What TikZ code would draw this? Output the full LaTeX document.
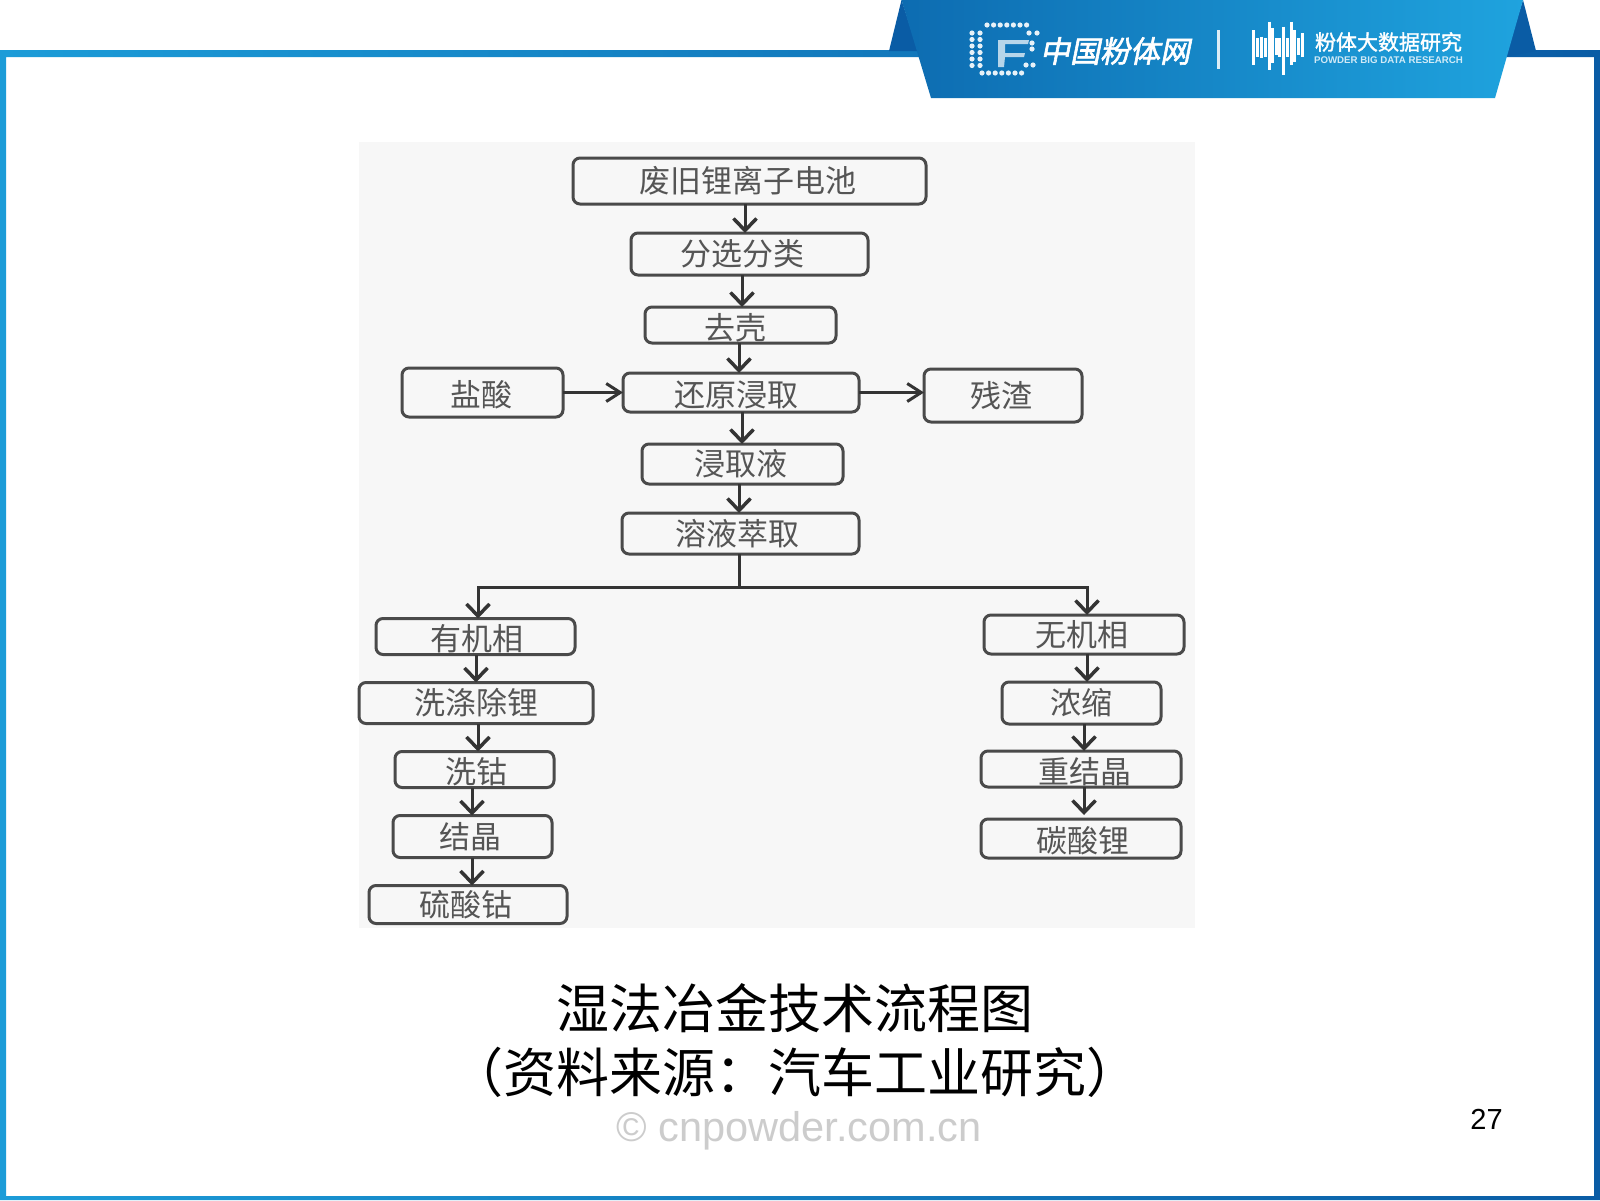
\documentclass[tikz,border=0pt]{standalone}
\usepackage{fontspec}
\setmainfont{Noto Sans CJK SC}
\newfontfamily\latinfont{Liberation Sans}
\newfontfamily\logofont[FakeSlant=.2,FakeBold=2]{Noto Sans CJK SC}
\newfontfamily\brandfont[FakeBold=1.5]{Noto Sans CJK SC}
\usetikzlibrary{positioning,arrows.meta}
\definecolor{framelight}{HTML}{1C9CD8}
\definecolor{framedark}{HTML}{0A5CA5}
\definecolor{bandleft}{HTML}{0D6CB1}
\definecolor{bandright}{HTML}{1FA3DE}
\definecolor{boxline}{HTML}{4A4A4A}
\definecolor{boxtext}{HTML}{555555}
\definecolor{scanbg}{HTML}{F7F7F7}
\tikzset{%
  proc/.style={draw=boxline,line width=3pt,rounded corners=7pt,inner sep=0pt,outer sep=0pt,
    text=boxtext,font=\fontsize{31pt}{31pt}\selectfont,text height=27pt,text depth=4pt},
  low/.style={text height=32pt},
  flow/.style={draw=boxline!70!black,line width=3pt,-{Straight Barb[length=12pt,width=23pt,line width=3.5pt]}},
  flowh/.style={draw=boxline!70!black,line width=2.5pt,-{Straight Barb[length=14pt,width=18pt,line width=3pt]}},
  stem/.style={draw=boxline!70!black,line width=3pt},
  caption/.style={font=\fontsize{53pt}{53pt}\selectfont,inner sep=0pt},
  dot/.style={fill=white,opacity=.9}
}

\begin{document}
\begin{tikzpicture}[x=1pt,y=-1pt]
  \useasboundingbox (0,0) rectangle (1600,1200);
  \fill[white] (0,0) rectangle (1600,1200);
  \path[even odd rule,left color=framelight,right color=framedark]
    (0,50) rectangle (1600,1200) (6,57) rectangle (1594,1196);

  \fill[framedark] (901.5,0) -- (889,51) -- (918,51) -- cycle;
  \fill[framedark] (1523,0) -- (1536,51) -- (1505,57) -- cycle;
  \shade[left color=bandleft,right color=bandright]
    (901.5,0) -- (931,98) -- (1495,98) -- (1523,0) -- cycle;

  \foreach \x in {987,993.6,...,1027} \fill[dot] (\x,25) circle (2.6);
  \foreach \x in {982,988.6,...,1022} \fill[dot] (\x,73) circle (2.6);
  \foreach \y in {33,39.5,...,66} {
    \fill[dot] (972,\y) circle (2.6);
    \fill[dot] (980,\y) circle (2.6);
  }
  \foreach \x/\y in {1029/33,1037/33,1026/65,1033/65,1032/43,1032/49}
    \fill[dot] (\x,\y) circle (2.6);
  \fill[white,opacity=.7] (998,40) -- (1029,40) -- (1028,44) -- (1005,44) -- (1005,53) -- (1025,53)
    -- (1024,57) -- (1005,57) -- (1004,67) -- (998,67) -- cycle;
  \node[text=white,inner sep=0pt,font=\logofont\fontsize{30pt}{30pt}\selectfont] (brand) at (1115,51) {中国粉体网};
  \fill[white,opacity=.85] (1216.5,30) rectangle (1219.5,69);
  \foreach \x/\t/\b in {40/45/150,52/70/125,64/65/130,75/70/125,87/20/165,98/40/145,108/70/120,
    119/70/125,131/35/180,142/70/125,153/20/150,164/45/140,175/70/120,187/55/125}
    \draw[white,line width=3pt] (1240+\x/3,15+\t/3) -- (1240+\x/3,15+\b/3);
  \node[text=white,inner sep=0pt,font=\brandfont\fontsize{21pt}{21pt}\selectfont] (brandb) at (1388.5,42) {粉体大数据研究};
  \node[text=white,opacity=.8,inner sep=0pt,font=\latinfont\bfseries\fontsize{9.7pt}{10pt}\selectfont] (brandc) at (1388.5,60.5) {POWDER BIG DATA RESEARCH};

  \fill[scanbg] (359,142) rectangle (1195,928);

  \node[proc,minimum width=353pt,minimum height=46pt] (waste) at (749.5,181) {废旧锂离子电池\kern4pt};
  \node[proc,minimum width=237pt,minimum height=42pt,below=29pt of waste] (sort) {分选分类\kern14pt};
  \node[proc,low,minimum width=191pt,minimum height=35pt,below=32pt of sort,xshift=-9pt] (shell) {去壳\kern11pt};
  \node[proc,low,minimum width=236pt,minimum height=39pt,below=30pt of shell,xshift=.5pt] (reduce) {还原浸取\kern9pt};
  \node[proc,low,minimum width=161pt,minimum height=49pt,left=60pt of reduce] (hcl) {盐酸\kern3pt};
  \node[proc,minimum width=158pt,minimum height=53pt,right=65pt of reduce,yshift=-3pt] (residue) {残渣\kern4pt};
  \node[proc,minimum width=201pt,minimum height=40pt,below=32pt of reduce,xshift=1.5pt] (liquor) {浸取液\kern3pt};
  \node[proc,minimum width=237pt,minimum height=41pt,below=29pt of liquor,xshift=-2pt] (extract) {溶液萃取\kern7pt};
  \coordinate[below=33pt of extract,xshift=-1.5pt] (fork);

  \node[proc,low,minimum width=199pt,minimum height=35pt] (org) at (475.5,636.5) {\kern2pt 有机相};
  \node[proc,minimum width=234pt,minimum height=41pt,below=28pt of org,xshift=.5pt] (washli) {洗涤除锂};
  \node[proc,low,minimum width=159pt,minimum height=35pt,below=28pt of washli,xshift=-1.5pt] (washco) {\kern3pt 洗钴};
  \node[proc,minimum width=159pt,minimum height=42pt,below=28pt of washco,xshift=-2pt] (cryst) {结晶\kern4pt};
  \node[proc,minimum width=198pt,minimum height=38pt,below=28pt of cryst,xshift=-4.5pt] (cosulf) {硫酸钴\kern4pt};

  \node[proc,minimum width=200pt,minimum height=39pt] (inorg) at (1084,634.5) {无机相\kern4pt};
  \node[proc,minimum width=159pt,minimum height=42pt,below=28pt of inorg,xshift=-2.5pt] (conc) {浓缩};
  \node[proc,low,minimum width=200pt,minimum height=35pt,below=27pt of conc,xshift=-.5pt] (recryst) {\kern8pt 重结晶};
  \node[proc,low,minimum width=200pt,minimum height=39pt,below=32pt of recryst] (licarb) {\kern4pt 碳酸锂};

  \draw[flow] ([xshift=-4.5pt]waste.south) -- ([xshift=-4.5pt]sort.north);
  \draw[flow] ([xshift=-7.5pt]sort.south) -- ([xshift=1.5pt]shell.north);
  \draw[flow] ([xshift=-1.5pt]shell.south) -- ([xshift=-2pt]reduce.north);
  \draw[flow] ([xshift=1pt]reduce.south) -- ([xshift=-.5pt]liquor.north);
  \draw[flow] ([xshift=-3.5pt]liquor.south) -- ([xshift=-1.5pt]extract.north);
  \draw[flowh] (hcl.east) -- (hcl.east -| reduce.west);
  \draw[flowh] (reduce.east) -- (reduce.east -| residue.west);
  \draw[stem] (extract.south -| fork) -- (fork);
  \draw[flow] (fork) -| ([xshift=2.5pt]org.north);
  \draw[flow] (fork) -| ([xshift=3pt]inorg.north);
  \draw[flow] ([xshift=.5pt]org.south) -- (washli.north);
  \draw[flow] ([xshift=2pt]washli.south) -- ([xshift=3.5pt]washco.north);
  \draw[flow] ([xshift=-2.5pt]washco.south) -- ([xshift=-.5pt]cryst.north);
  \draw[flow] ([xshift=-.5pt]cryst.south) -- ([xshift=4pt]cosulf.north);
  \draw[flow] ([xshift=3pt]inorg.south) -- ([xshift=5.5pt]conc.north);
  \draw[flow] ([xshift=2.5pt]conc.south) -- ([xshift=3pt]recryst.north);
  \draw[flow,shorten >=4pt] ([xshift=3pt]recryst.south) -- ([xshift=3pt]licarb.north);

  \node[caption] (title) at (795,1008) {湿法冶金技术流程图};
  \node[caption] (source) at (795,1072) {（资料来源：汽车工业研究）};
  \node[text=black!20,inner sep=0pt,font=\latinfont\fontsize{41.5pt}{41.5pt}\selectfont] (mark) at (799,1131) {© cnpowder.com.cn};
  \node[inner sep=0pt,font=\latinfont\fontsize{29pt}{29pt}\selectfont] (page) at (1486.5,1119.5) {27};
\end{tikzpicture}
\end{document}
